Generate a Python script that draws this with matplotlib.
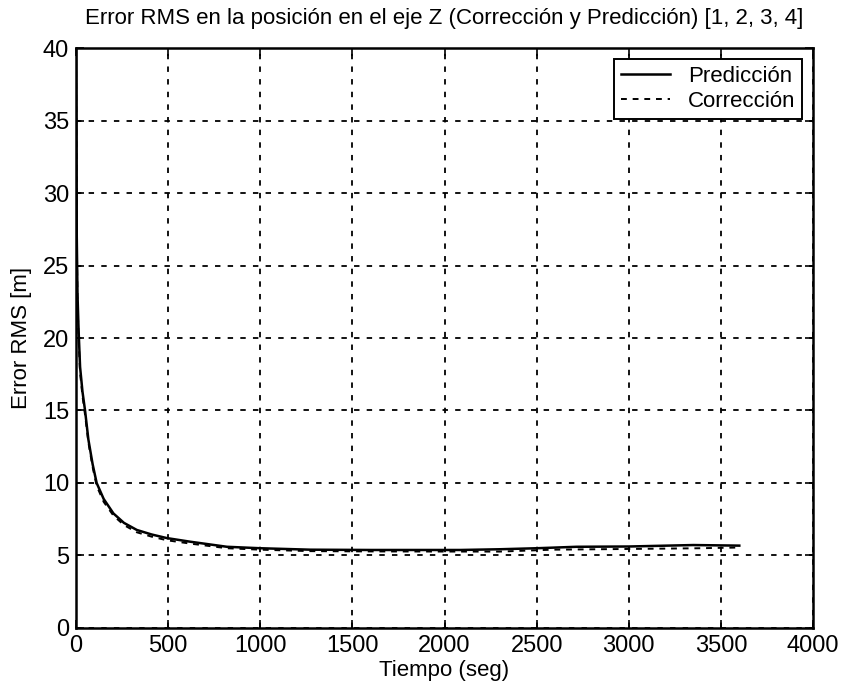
import matplotlib
matplotlib.use("Agg")
import matplotlib.pyplot as plt

plt.rcParams["font.family"] = ["Liberation Sans Narrow", "Liberation Sans", "DejaVu Sans"]

# Tiempo (seg) and RMS error values
t_pred = [0, 2, 4, 8, 14, 22, 35, 49, 67, 90, 112, 150, 203, 260, 330, 410, 493, 620, 819, 1000, 1272, 1600, 2087, 2300, 2500, 2717, 3000, 3350, 3600]
e_pred = [40, 34, 27, 23, 20.5, 18.0, 16.3, 15.0, 13.0, 11.3, 10.0, 8.9, 7.9, 7.25, 6.76, 6.45, 6.2, 5.95, 5.6, 5.5, 5.4, 5.38, 5.38, 5.43, 5.5, 5.6, 5.62, 5.72, 5.68]

t_corr = [0, 2, 4, 8, 14, 22, 35, 49, 67, 90, 112, 150, 203, 260, 330, 410, 493, 620, 819, 1000, 1272, 1600, 2087, 2300, 2583, 3000, 3387, 3600]
e_corr = [40, 33, 27, 22.5, 20, 17.6, 16.0, 14.7, 12.8, 11.1, 9.8, 8.7, 7.75, 7.1, 6.6, 6.3, 6.05, 5.82, 5.5, 5.4, 5.3, 5.28, 5.27, 5.27, 5.4, 5.45, 5.5, 5.55]

title = "Error RMS en la posición en el eje Z (Corrección y Predicción) [1, 2, 3, 4]"
x_ticks = [0, 500, 1000, 1500, 2000, 2500, 3000, 3500, 4000]
y_ticks = [0, 5, 10, 15, 20, 25, 30, 35, 40]

fig = plt.figure(figsize=(8.41, 6.91), dpi=100)
ax = fig.add_axes([0.0904, 0.0912, 0.8763, 0.8393])

ax.plot(t_pred, e_pred, color="black", linewidth=1.8, linestyle="-", label="Predicción")
ax.plot(t_corr, e_corr, color="black", linewidth=1.4, linestyle=(0, (3, 3)), label="Corrección")

ax.set_xlim(0, 4000)
ax.set_ylim(0, 40)
ax.set_xticks(x_ticks)
ax.set_yticks(y_ticks)
ax.tick_params(direction="in", top=True, right=True, length=6, width=1.2, labelsize=17, pad=5)
ax.grid(True, color="black", linestyle=(0, (3, 4)), linewidth=1.3)
for spine in ax.spines.values():
    spine.set_linewidth(1.8)

ax.set_title(title, fontsize=16, pad=17)
ax.set_xlabel("Tiempo (seg)", fontsize=16, labelpad=2)
ax.set_ylabel("Error RMS [m]", fontsize=16, labelpad=8)

leg = ax.legend(loc="upper right", fontsize=16, frameon=True, fancybox=False,
                edgecolor="black", framealpha=1, handlelength=2.2, borderaxespad=0.5,
                borderpad=0.3, labelspacing=0.2)
leg.get_frame().set_linewidth(1.4)

fig.savefig("out.png", dpi=100)
